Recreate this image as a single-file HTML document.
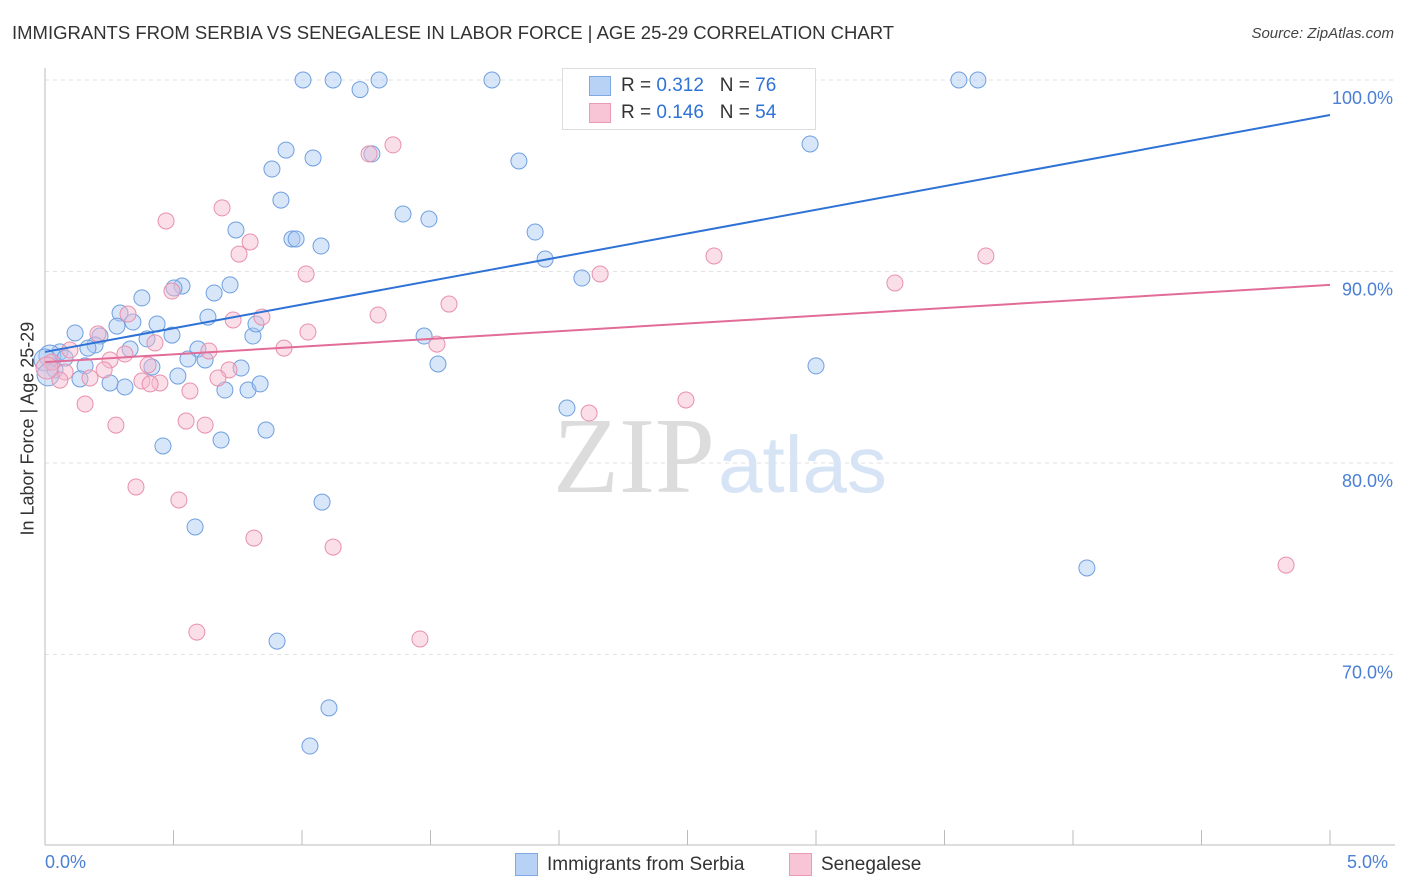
<!DOCTYPE html>
<html><head><meta charset="utf-8">
<style>
body{margin:0;background:#fff;font-family:"Liberation Sans",sans-serif;}
#wrap{position:relative;width:1406px;height:892px;overflow:hidden;}
.t{position:absolute;white-space:nowrap;}
</style></head>
<body>
<div id="wrap">
<div class="t" style="left:12px;top:22px;font-size:18.5px;color:#333;">IMMIGRANTS FROM SERBIA VS SENEGALESE IN LABOR FORCE | AGE 25-29 CORRELATION CHART</div>
<div class="t" style="right:12px;top:25px;font-size:15px;color:#444;font-style:italic;">Source: ZipAtlas.com</div>
<svg id="svg" width="1406" height="892" style="position:absolute;left:0;top:0"></svg>
</div>
<script>
const blueX=[1.004,1.121,1.226,1.30,1.739,2.907,3.556,3.630,2.977,1.844,0.938,1.043,0.883,0.918,1.393,1.494,0.743,0.961,0.977,1.074,1.907,1.946,2.089,0.533,0.502,0.658,0.720,0.377,0.634,0.292,0.342,0.436,0.280,0.117,0.214,0.494,0.397,0.809,0.821,1.475,0.195,0.167,0.331,0.595,0.058,0.019,0.556,0.623,0.156,0.416,0.763,1.529,3.0,0.517,0.136,0.253,0.311,0.700,0.790,0.837,2.031,0.860,0.685,0.459,1.078,0.584,4.054,0.903,1.105,1.031,0,0.039,0.078,0.012,1.272];
const blueY=[100,100,99.5,100,100,100,100,100,96.66,95.77,96.34,95.93,95.35,93.73,93.0,92.74,92.17,91.70,91.70,91.33,92.06,90.65,89.66,89.24,89.14,88.88,89.30,88.62,87.62,87.83,87.36,87.26,87.15,86.79,86.63,86.68,86.48,86.63,87.26,86.63,86.16,86.0,85.95,85.95,85.80,85.59,85.43,85.38,85.07,85.01,84.96,85.17,85.07,84.54,84.39,84.18,83.97,83.81,83.81,84.13,82.87,81.72,81.20,80.89,77.96,76.66,74.52,70.70,67.21,65.22,85.38,84.86,85.48,84.60,96.14];
const pinkX=[2.101,2.697,1.354,1.261,0.471,0.689,0.798,0.755,1.016,0.494,1.572,2.160,2.603,3.307,3.661,1.296,0.732,0.844,1.023,0.323,0.206,0.428,0.638,0.930,1.525,0.311,0.253,0.027,0.078,0.175,0.230,0.401,0.716,0.673,0.377,0.447,0.564,0.156,0.276,0.549,0.623,2.117,2.494,0.354,0.521,0.813,1.121,4.829,0.591,1.459,0.058,0.008,0.097,0.409];
const pinkY=[100,100,96.61,96.14,92.64,93.32,91.54,90.91,89.87,88.98,88.30,89.87,90.81,89.40,90.81,87.73,87.47,87.62,86.84,87.78,86.74,86.27,85.85,86.0,86.21,85.69,85.38,85.27,84.75,84.44,84.86,85.12,84.86,84.44,84.28,84.18,83.76,83.08,81.98,82.19,81.98,82.61,83.29,78.75,78.07,76.08,75.61,74.67,71.17,70.81,84.33,84.96,85.90,84.13];
const blueTrend=[85.80,98.17];
const pinkTrend=[85.27,89.30];
const yTicks=[100,90,80,70];
const yTickLabels=["100.0%","90.0%","80.0%","70.0%"];
const xTicks=[0,0.5,1,1.5,2,2.5,3,3.5,4,4.5,5];

const X=v=>45+v/5*1285;
const Y=v=>80+(100-v)*19.15;
const svg=document.getElementById('svg');
const NS='http://www.w3.org/2000/svg';
function mk(tag,attrs,parent){const e=document.createElementNS(NS,tag);for(const k in attrs)e.setAttribute(k,attrs[k]);(parent||svg).appendChild(e);return e;}

yTicks.forEach((t,i)=>{
  const g=mk('line',{x1:45,x2:1395,y1:Y(t),y2:Y(t),stroke:'#e2e2e2','stroke-dasharray':'4,4'});
  
  
  const tx=mk('text',{x:1393,y:Y(t)+24,'text-anchor':'end','font-size':18,fill:'#4a7fd4','font-family':'Liberation Sans'});
  tx.textContent=yTickLabels[i];
  
  
});
let a=mk('line',{x1:45,x2:45,y1:68,y2:845,stroke:'#bbb'});


a=mk('line',{x1:45,x2:1395,y1:845,y2:845,stroke:'#bbb'});


xTicks.forEach(t=>{
  const l=mk('line',{x1:X(t),x2:X(t),y1:830,y2:845,stroke:'#bbb'});
  
  
});
let w=mk('text',{x:553,y:492,'font-size':108,fill:'#dcdcdc','font-family':'Liberation Serif'});
w.textContent='ZIP';


w=mk('text',{x:718,y:492,'font-size':80,fill:'#d6e4f5','font-family':'Liberation Sans'});
w.textContent='atlas';



function pts(xs,ys,fill,stroke,name){
  xs.forEach((x,i)=>{
    const c=mk('circle',{cx:X(x),cy:Y(ys[i]),r:(x<0.02?11:8),fill:fill,'fill-opacity':0.45,stroke:stroke,'stroke-width':1});
    
    
  });
}
pts(blueX,blueY,'#a9c8f2','#6f9fe0','serbia-point');
pts(pinkX,pinkY,'#f7b9cd','#e890ad','senegalese-point');
let tl=mk('line',{x1:X(0),y1:Y(blueTrend[0]),x2:X(5),y2:Y(blueTrend[1]),stroke:'#2f72d6','stroke-width':2});


tl=mk('line',{x1:X(0),y1:Y(pinkTrend[0]),x2:X(5),y2:Y(pinkTrend[1]),stroke:'#e26c98','stroke-width':2});


</script>
<div class="t" style="left:-52px;top:445px;font-size:18px;color:#333;transform:rotate(-90deg);transform-origin:center;width:160px;text-align:center;">In Labor Force | Age 25-29</div>
<div class="t" style="left:45px;top:852px;font-size:18px;color:#4a7fd4;">0.0%</div>
<div class="t" style="left:1347px;top:852px;font-size:18px;color:#4a7fd4;">5.0%</div>
<div style="position:absolute;left:562px;top:68px;width:252px;height:60px;border:1px solid #ddd;background:#fff;font-size:19px;color:#333;">
 <div style="position:absolute;left:26px;top:7px;width:20px;height:18px;background:#b7d2f5;border:1px solid #7ea9e3;"></div>
 <div class="t" style="left:58px;top:6px;">R = <span style="color:#2f72d6">0.312</span>&nbsp;&nbsp;&nbsp;N = <span style="color:#2f72d6">76</span></div>
 <div style="position:absolute;left:26px;top:34px;width:20px;height:18px;background:#f8c5d6;border:1px solid #e99ab5;"></div>
 <div class="t" style="left:58px;top:33px;">R = <span style="color:#2f72d6">0.146</span>&nbsp;&nbsp;&nbsp;N = <span style="color:#2f72d6">54</span></div>
</div>
<div style="position:absolute;left:515px;top:853px;width:21px;height:21px;background:#b7d2f5;border:1px solid #7ea9e3;"></div>
<div class="t" style="left:547px;top:854px;font-size:19px;color:#333;">Immigrants from Serbia</div>
<div style="position:absolute;left:789px;top:853px;width:21px;height:21px;background:#f8c5d6;border:1px solid #e99ab5;"></div>
<div class="t" style="left:821px;top:854px;font-size:19px;color:#333;">Senegalese</div>
</body></html>
